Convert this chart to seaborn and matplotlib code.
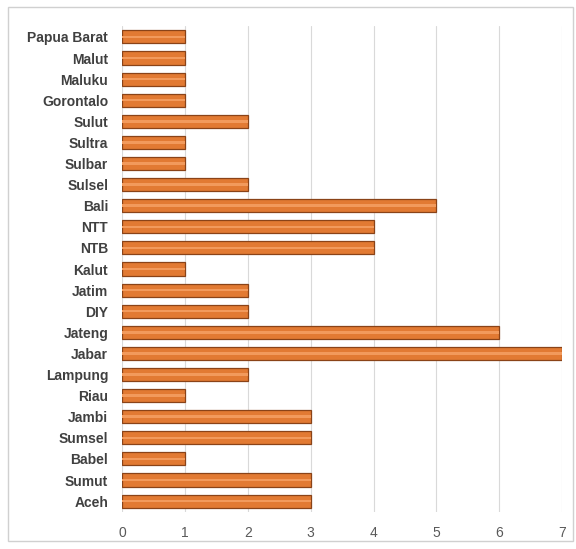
import pandas as pd
import numpy as np
import seaborn as sns
import matplotlib.pyplot as plt
from matplotlib.patches import Rectangle

provinsi = ['Papua Barat', 'Malut', 'Maluku', 'Gorontalo', 'Sulut', 'Sultra', 'Sulbar',
            'Sulsel', 'Bali', 'NTT', 'NTB', 'Kalut', 'Jatim', 'DIY', 'Jateng', 'Jabar',
            'Lampung', 'Riau', 'Jambi', 'Sumsel', 'Babel', 'Sumut', 'Aceh']
jumlah = [1, 1, 1, 1, 2, 1, 1, 2, 5, 4, 4, 1, 2, 2, 6, 7, 2, 1, 3, 3, 1, 3, 3]

df = pd.DataFrame({'provinsi': provinsi, 'jumlah': jumlah})

sns.set_style('white')
plt.rcParams['font.family'] = ['Liberation Sans', 'DejaVu Sans']

fig = plt.figure(figsize=(5.76, 5.49), dpi=100)
ax = fig.add_axes([0.212, 0.068, 0.764, 0.884])

# main bars
sns.barplot(data=df, x='jumlah', y='provinsi', order=provinsi, orient='h',
            color='#E27A33', edgecolor='#8a4318', linewidth=0.9, width=0.62,
            saturation=1, ax=ax)
# light highlight strip inside each bar
sns.barplot(data=df, x='jumlah', y='provinsi', order=provinsi, orient='h',
            color='#F29A5C', linewidth=0, width=0.12, saturation=1, ax=ax)

ax.set_xlim(0, 7)
ax.set_ylim(len(provinsi) - 0.5, -0.5)
ax.set_xticks(range(0, 8))
ax.xaxis.grid(True, color='#d9d9d9', linewidth=0.8)
ax.set_axisbelow(True)
for s in ax.spines.values():
    s.set_visible(False)
ax.set_xlabel('')
ax.set_ylabel('')
ax.tick_params(axis='y', length=0, pad=10, labelsize=10, labelcolor='#404040')
ax.tick_params(axis='x', length=0, pad=10, labelsize=10, labelcolor='#595959')
for t in ax.get_yticklabels():
    t.set_fontweight('bold')

fig.patches.append(Rectangle((0.014, 0.015), 0.98, 0.972, transform=fig.transFigure,
                             fill=False, edgecolor='#d0d0d0', linewidth=1))

fig.savefig('out.png', dpi=100)
